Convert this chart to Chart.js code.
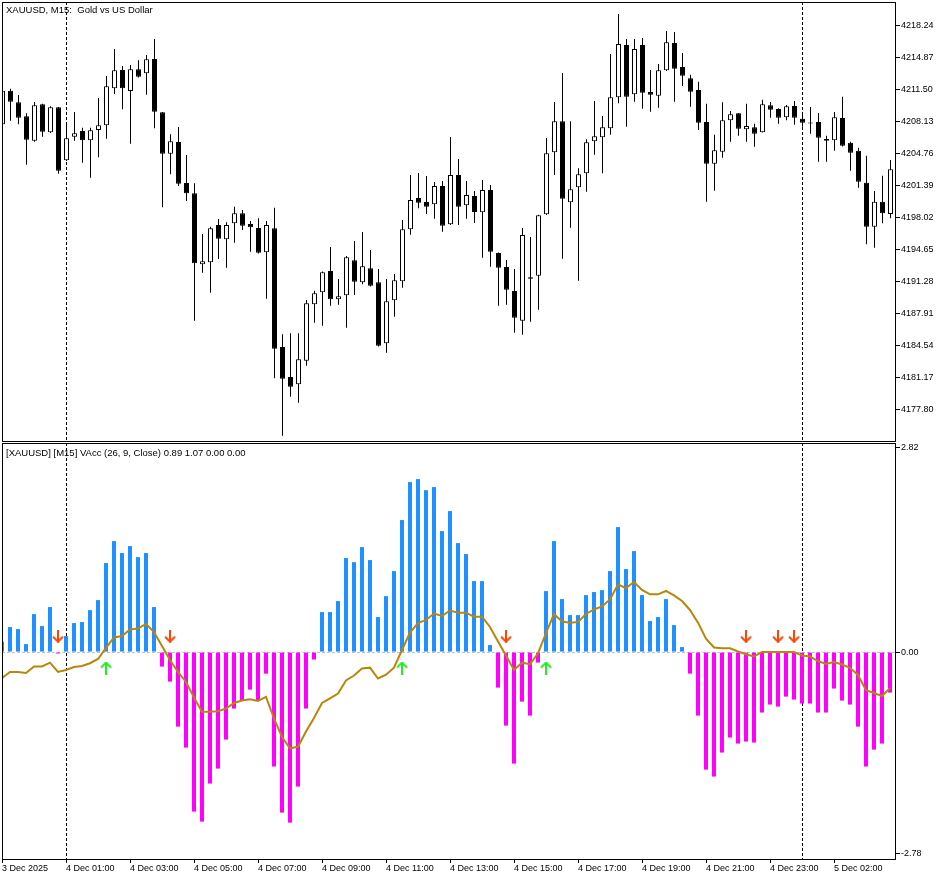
<!DOCTYPE html>
<html><head><meta charset="utf-8">
<script src="https://cdn.jsdelivr.net/npm/chart.js@4.4.1/dist/chart.umd.min.js"></script>
<style>
html,body{margin:0;padding:0;background:#fff;}
body{width:948px;height:880px;position:relative;overflow:hidden;}
.pane{position:absolute;left:0;}
.pane canvas{display:block;}
.hdr{position:absolute;left:6px;font-family:'Liberation Sans',Arial,sans-serif;font-size:9.5px;line-height:9.5px;color:#000;white-space:pre;}
</style></head><body>
<div class="pane" style="top:0;width:948px;height:442px"><canvas id="priceChart" width="948" height="442"></canvas></div>
<div class="pane" style="top:442px;width:948px;height:438px"><canvas id="accChart" width="948" height="438"></canvas></div>
<div class="hdr" style="top:5px">XAUUSD, M15:  Gold vs US Dollar</div>
<div class="hdr" style="top:448px">[XAUUSD] [M15] VAcc (26, 9, Close) 0.89 1.07 0.00 0.00</div>
<script>
// ---- data (XAUUSD M15, 3 Dec 22:00 .. 5 Dec) ----
const opens = [
4207.81,4211.35,4210.13,4208.66,4206.09,4209.92,4206.97,4209.60,4204.02,4206.51,
4207.11,4206.13,4207.21,4207.71,4211.61,4213.53,4211.32,4213.61,4213.18,4214.69,
4209.08,4204.72,4205.95,4201.63,4200.55,4193.07,4193.28,4197.21,4195.70,4197.39,
4198.44,4197.31,4196.89,4194.33,4196.86,4184.36,4181.20,4180.43,4182.92,4188.86,
4190.12,4192.36,4189.38,4189.81,4193.49,4191.17,4192.65,4191.17,4184.75,4189.28,
4191.28,4196.76,4200.05,4199.63,4199.39,4201.32,4197.28,4202.47,4199.28,4200.26,
4198.55,4200.90,4194.26,4192.79,4190.26,4187.13,4191.70,4191.87,4198.34,4204.87,
4208.13,4199.60,4201.18,4202.65,4206.02,4206.44,4207.39,4210.66,4216.17,4210.97,
4216.17,4211.22,4210.83,4213.50,4216.38,4213.85,4212.66,4211.43,4208.06,4203.66,
4204.93,4208.24,4208.97,4207.29,4207.50,4206.97,4209.81,4209.43,4208.55,4209.74,
4208.40,4207.95,4208.06,4206.27,4206.13,4208.48,4205.88,4205.03,4201.66,4197.03,4199.66,4198.37];
const highs = [
4211.43,4211.56,4210.90,4208.97,4210.16,4209.98,4209.71,4209.64,4208.02,4209.11,
4207.46,4207.46,4210.58,4212.90,4215.74,4213.95,4214.06,4214.55,4215.11,4216.80,
4209.10,4206.76,4207.53,4204.58,4201.60,4196.26,4197.03,4197.84,4197.49,4199.14,
4198.79,4197.63,4197.91,4197.63,4199.03,4185.70,4185.80,4185.80,4189.31,4190.29,
4192.30,4194.89,4191.52,4193.94,4195.52,4196.47,4194.58,4192.58,4191.52,4192.05,
4197.73,4202.47,4202.69,4202.37,4201.74,4201.84,4206.48,4204.16,4201.84,4200.79,
4201.95,4201.42,4194.30,4193.52,4192.58,4196.89,4195.95,4198.29,4206.37,4210.16,
4213.22,4208.13,4203.18,4206.23,4210.27,4208.69,4215.22,4219.43,4216.80,4216.80,
4216.90,4213.53,4214.16,4217.64,4217.53,4215.32,4213.04,4212.30,4209.98,4206.72,
4210.13,4209.21,4209.00,4209.98,4207.88,4210.40,4210.16,4209.50,4209.85,4210.27,
4208.79,4209.64,4209.00,4206.61,4209.11,4210.72,4205.98,4205.35,4204.51,4200.79,4202.40,4204.05];
const lows = [
4207.63,4208.19,4207.81,4203.56,4205.98,4206.51,4206.90,4202.61,4203.95,4206.09,
4203.77,4202.19,4204.34,4206.30,4211.00,4209.39,4205.77,4212.74,4210.93,4207.39,
4199.07,4202.55,4201.32,4199.74,4187.13,4192.19,4190.08,4193.63,4192.71,4195.35,
4196.68,4194.40,4194.21,4189.45,4181.06,4175.02,4179.13,4178.49,4182.39,4186.92,
4186.60,4188.71,4188.82,4186.39,4189.84,4190.96,4190.73,4184.41,4183.76,4187.55,
4190.61,4196.19,4198.97,4198.37,4197.87,4196.50,4197.21,4197.21,4197.87,4197.42,
4193.77,4192.82,4188.71,4188.82,4185.87,4185.66,4187.03,4188.29,4198.26,4202.47,
4193.66,4196.92,4191.34,4200.72,4204.61,4202.65,4206.72,4210.03,4207.56,4210.19,
4209.46,4209.14,4209.56,4213.43,4210.19,4211.85,4209.67,4207.21,4199.66,4200.82,
4204.30,4205.98,4206.61,4205.98,4205.45,4206.95,4208.51,4207.88,4208.24,4207.77,
4207.56,4206.82,4203.87,4203.87,4205.03,4205.48,4202.93,4201.14,4195.18,4194.82,4197.39,4197.91];
const closes = [
4211.35,4210.19,4208.51,4206.19,4209.81,4207.03,4209.60,4202.93,4206.34,4206.87,
4206.13,4207.18,4207.71,4211.82,4213.50,4211.61,4213.61,4212.83,4214.66,4209.14,
4204.72,4206.02,4201.56,4200.55,4193.18,4193.39,4196.86,4195.77,4197.21,4198.44,
4197.14,4196.97,4194.29,4197.21,4184.18,4181.02,4180.18,4183.07,4188.96,4190.02,
4192.23,4189.38,4189.70,4193.81,4191.24,4192.86,4190.82,4184.50,4189.17,4191.38,
4196.76,4199.84,4199.56,4199.14,4201.32,4197.14,4202.47,4199.14,4200.37,4198.58,
4200.90,4194.40,4192.71,4190.40,4187.45,4196.16,4191.55,4198.23,4204.76,4208.13,
4199.98,4200.97,4202.55,4205.92,4206.55,4207.50,4210.66,4216.27,4210.72,4215.74,
4211.14,4210.93,4213.50,4216.45,4213.67,4212.93,4211.25,4207.98,4203.66,4205.08,
4208.24,4208.87,4207.35,4207.63,4206.82,4209.92,4209.35,4208.51,4209.71,4208.51,
4207.98,4207.90,4206.40,4206.09,4208.55,4205.56,4204.82,4201.77,4197.03,4199.66,4198.44,4203.07];
const accHist = [
0.142,0.345,0.317,0.110,0.524,0.359,0.621,-0.020,0.221,0.400,
0.414,0.579,0.717,1.228,1.531,1.366,1.462,1.310,1.366,0.621,
-0.200,-0.407,-1.028,-1.317,-2.200,-2.338,-1.814,-1.607,-1.207,-0.779,
-0.669,-0.517,-0.669,-0.297,-1.579,-2.214,-2.352,-1.855,-0.779,-0.103,
0.552,0.552,0.703,1.297,1.241,1.448,1.269,0.483,0.772,1.117,
1.821,2.345,2.386,2.234,2.276,1.669,1.945,1.503,1.352,0.979,
0.979,0.097,-0.490,-1.014,-1.538,-0.683,-0.876,-0.145,0.841,1.531,
0.731,0.510,0.510,0.786,0.828,0.855,1.117,1.724,1.145,1.393,
0.786,0.428,0.483,0.731,0.372,0.069,-0.297,-0.876,-1.621,-1.717,
-1.386,-1.179,-1.262,-1.234,-1.248,-0.834,-0.724,-0.752,-0.614,-0.655,
-0.710,-0.710,-0.834,-0.834,-0.503,-0.669,-0.724,-1.028,-1.579,-1.345,-1.262,-0.559];
const accSignal = [
-0.357,-0.274,-0.274,-0.288,-0.199,-0.199,-0.146,-0.274,-0.247,-0.206,
-0.192,-0.154,-0.095,0.057,0.201,0.222,0.312,0.326,0.388,0.277,
0.084,-0.109,-0.274,-0.412,-0.626,-0.822,-0.822,-0.817,-0.778,-0.702,
-0.668,-0.651,-0.674,-0.619,-0.916,-1.171,-1.327,-1.306,-1.095,-0.909,
-0.702,-0.637,-0.571,-0.392,-0.323,-0.226,-0.215,-0.364,-0.312,-0.215,
0.029,0.268,0.401,0.443,0.532,0.498,0.574,0.543,0.543,0.488,
0.488,0.346,0.146,-0.047,-0.247,-0.146,-0.168,-0.017,0.263,0.526,
0.422,0.406,0.415,0.526,0.588,0.629,0.726,0.932,0.884,0.967,
0.857,0.797,0.797,0.843,0.781,0.705,0.581,0.406,0.186,0.063,
0.052,0.052,0.008,-0.029,-0.061,0.000,0.000,0.000,0.000,0.000,
-0.047,-0.061,-0.123,-0.164,-0.137,-0.171,-0.217,-0.316,-0.527,-0.564,-0.606,-0.495];
const priceTicks = [4218.24,4214.87,4211.50,4208.13,4204.76,4201.39,4198.02,4194.65,4191.28,4187.91,4184.54,4181.17,4177.80];
const accTicks = [2.82, 0.00, -2.78];
const timeTickLabels = ['3 Dec 2025','4 Dec 01:00','4 Dec 03:00','4 Dec 05:00','4 Dec 07:00','4 Dec 09:00','4 Dec 11:00','4 Dec 13:00','4 Dec 15:00','4 Dec 17:00','4 Dec 19:00','4 Dec 21:00','4 Dec 23:00','5 Dec 02:00'];
const LABEL_STEP = 8;             // one time label every 8 bars (2 hours)
const daySeparators = [8, 100];   // bar index of first bar of 4 Dec and 5 Dec
const downArrowBars = [7, 21, 63, 93, 97, 99];
const upArrowBars = [13, 50, 68];
const downArrowValue = 0.22;
const upArrowValue = -0.22;

// ---- rendering ----
Chart.defaults.font.family = "'Liberation Sans', Arial, sans-serif";
Chart.defaults.font.size = 9;
Chart.defaults.color = '#000';

const idx = opens.map((_, i) => i);
const zeroPad = s => { s.paddingLeft = 0; s.paddingRight = 0; s.paddingTop = 0; s.paddingBottom = 0; };

const framePlugin = {
  id: 'frame',
  afterDraw(chart) {
    const {ctx, chartArea: a} = chart;
    const l = Math.round(a.left), t = Math.round(a.top), r = Math.round(a.right), b = Math.round(a.bottom);
    ctx.save(); ctx.strokeStyle = '#000'; ctx.lineWidth = 1; ctx.setLineDash([]);
    ctx.strokeRect(l + 0.5, t + 0.5, r - l, b - t);
    ctx.restore();
  }
};

function makeArrow(color, down) {
  const c = document.createElement('canvas'); c.width = 12; c.height = 13;
  const g = c.getContext('2d');
  if (!down) { g.translate(0, 13); g.scale(1, -1); }
  g.strokeStyle = color; g.lineWidth = 2;
  g.beginPath(); g.moveTo(6, 0); g.lineTo(6, 12); g.stroke();
  g.beginPath(); g.moveTo(1, 7); g.lineTo(6, 12); g.lineTo(11, 7); g.stroke();
  return c;
}
const downImg = makeArrow('#FF4500', true);
const upImg = makeArrow('#22EE22', false);

new Chart(document.getElementById('priceChart'), {
  type: 'bar',
  data: { datasets: [
    { label: 'wick', data: idx.map(i => ({x: i, y: [lows[i], highs[i]]})),
      backgroundColor: '#000', borderWidth: 0, barThickness: 1, grouped: false, order: 2, inflateAmount: 0 },
    { label: 'body', data: idx.map(i => ({x: i, y: [opens[i], closes[i]]})),
      backgroundColor: c => closes[c.dataIndex] >= opens[c.dataIndex] ? '#fff' : '#000',
      borderColor: '#000', borderWidth: 1, borderSkipped: false, barThickness: 5,
      grouped: false, order: 1, inflateAmount: 0, minBarLength: 1 }
  ]},
  options: {
    responsive: false, animation: false, devicePixelRatio: 1, events: [],
    layout: { autoPadding: false, padding: { left: 2, top: 2, right: 0, bottom: 1 } },
    plugins: { legend: { display: false }, tooltip: { enabled: false } },
    scales: {
      x: { type: 'linear', min: -0.0625, max: 111.5625, bounds: 'data', offset: false,
        afterBuildTicks: s => { s.ticks = daySeparators.map(v => ({value: v})); },
        ticks: { display: false },
        grid: { offset: false, drawTicks: false, color: '#000', lineWidth: 1 },
        border: { display: false, dash: [3, 2] },
        afterFit: s => { s.height = 0; zeroPad(s); } },
      y: { position: 'right', min: 4174.46, max: 4220.69, bounds: 'data',
        afterBuildTicks: s => { s.ticks = priceTicks.map(v => ({value: v})); },
        ticks: { callback: v => Number(v).toFixed(2), padding: 1, autoSkip: false },
        grid: { drawOnChartArea: false, tickLength: 5, color: '#000' },
        border: { display: true, color: '#000' },
        afterFit: s => { s.width = 53; zeroPad(s); } }
    }
  },
  plugins: [framePlugin]
});

new Chart(document.getElementById('accChart'), {
  type: 'bar',
  data: { datasets: [
    { type: 'scatter', data: downArrowBars.map(i => ({x: i, y: downArrowValue})), pointStyle: downImg, pointRadius: 6, order: 0 },
    { type: 'scatter', data: upArrowBars.map(i => ({x: i, y: upArrowValue})), pointStyle: upImg, pointRadius: 6, order: 0 },
    { type: 'line', data: idx.map(i => ({x: i, y: accSignal[i]})), borderColor: '#B8860B', borderWidth: 2,
      pointRadius: 0, tension: 0, fill: false, order: 1 },
    { type: 'bar', data: idx.map(i => ({x: i, y: accHist[i]})),
      backgroundColor: c => accHist[c.dataIndex] >= 0 ? '#1E90FF' : '#FF00FF',
      borderWidth: 0, barThickness: 4, grouped: false, inflateAmount: 0, order: 2 }
  ]},
  options: {
    responsive: false, animation: false, devicePixelRatio: 1, events: [],
    layout: { autoPadding: false, padding: { left: 2, top: 1, right: 0, bottom: 0 } },
    plugins: { legend: { display: false }, tooltip: { enabled: false } },
    scales: {
      x: { type: 'linear', min: 0, max: 111.625, bounds: 'data', offset: false,
        afterBuildTicks: s => {
          const vals = timeTickLabels.map((_, k) => k * LABEL_STEP).concat(daySeparators);
          s.ticks = [...new Set(vals)].sort((a, b) => a - b).map(v => ({value: v}));
        },
        ticks: { autoSkip: false, maxRotation: 0, minRotation: 0, align: 'start', padding: 0,
          callback: v => (v % LABEL_STEP === 0 && v / LABEL_STEP < timeTickLabels.length) ? timeTickLabels[v / LABEL_STEP] : '' },
        grid: { offset: false, drawOnChartArea: true, tickLength: 4,
          color: c => (c.tick && daySeparators.includes(c.tick.value)) ? '#000' : 'rgba(0,0,0,0)',
          tickColor: c => (c.tick && c.tick.value % LABEL_STEP === 0) ? '#000' : 'rgba(0,0,0,0)' },
        border: { display: true, color: '#000',
          dash: c => (c.tick && daySeparators.includes(c.tick.value)) ? [3, 2] : [] },
        afterFit: s => { s.height = 21; zeroPad(s); } },
      y: { position: 'right', min: -2.854, max: 2.884, bounds: 'data',
        afterBuildTicks: s => { s.ticks = accTicks.map(v => ({value: v})); },
        ticks: { callback: v => Number(v).toFixed(2), padding: 1, autoSkip: false },
        grid: { drawOnChartArea: true, tickLength: 5, tickColor: '#000',
          color: c => (c.tick && c.tick.value === 0) ? '#C0C0C0' : 'rgba(0,0,0,0)' },
        border: { display: true, color: '#000',
          dash: c => (c.tick && c.tick.value === 0) ? [3, 2] : [] },
        afterFit: s => { s.width = 53; zeroPad(s); } }
    }
  },
  plugins: [framePlugin]
});
</script>
</body></html>
